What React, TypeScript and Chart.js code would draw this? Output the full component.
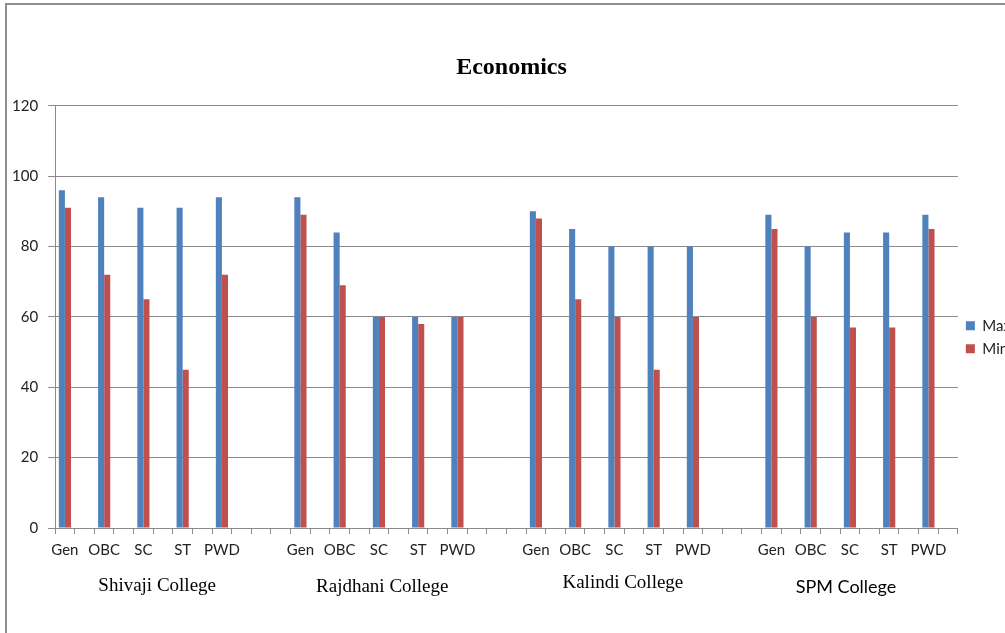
import React, { useEffect, useRef } from 'react';
import { Chart, registerables } from 'chart.js';

Chart.register(...registerables);

// ---- data ----
const subCategories = ['Gen', 'OBC', 'SC', 'ST', 'PWD'];
const colleges = ['Shivaji College', 'Rajdhani College', 'Kalindi College', 'SPM College'];
const seriesNames = ['Max', 'Min'];

const shivajiMax = [96, 94, 91, 91, 94];
const shivajiMin = [91, 72, 65, 45, 72];
const rajdhaniMax = [94, 84, 60, 60, 60];
const rajdhaniMin = [89, 69, 60, 58, 60];
const kalindiMax = [90, 85, 80, 80, 80];
const kalindiMin = [88, 65, 60, 45, 60];
const spmMax = [89, 80, 84, 84, 89];
const spmMin = [85, 60, 57, 57, 85];

const yTickValues = [0, 20, 40, 60, 80, 100, 120];

const maxByCollege = [shivajiMax, rajdhaniMax, kalindiMax, spmMax];
const minByCollege = [shivajiMin, rajdhaniMin, kalindiMin, spmMin];

// ---- layout constants (not data) ----
const groupLabelIndex = [4.7, 16.17, 28.43, 39.8];
const groupLabelFont = [
  'normal 19px "Liberation Serif"',
  'normal 19px "Liberation Serif"',
  'normal 19px "Liberation Serif"',
  'normal 18px Lato',
];
const groupLabelDy = [58, 59, 55, 59];

// Build slot-based category axis: Gen,_,OBC,_,SC,_,ST,_,PWD,_ (+2 spacer slots between colleges)
function buildSlots() {
  const labels: string[] = [];
  const maxData: (number | null)[] = [];
  const minData: (number | null)[] = [];
  colleges.forEach((_, g) => {
    subCategories.forEach((sc, j) => {
      labels.push(sc);
      maxData.push(maxByCollege[g][j]);
      minData.push(minByCollege[g][j]);
      labels.push('');
      maxData.push(null);
      minData.push(null);
    });
    if (g < colleges.length - 1) {
      for (let k = 0; k < 2; k++) {
        labels.push('');
        maxData.push(null);
        minData.push(null);
      }
    }
  });
  return { labels, maxData, minData };
}

const groupLabelPlugin = {
  id: 'groupLabels',
  afterDraw(chart: any) {
    const ctx = chart.ctx;
    const xs = chart.scales.x;
    const bottom = chart.chartArea.bottom;
    ctx.save();
    ctx.fillStyle = '#000';
    ctx.textAlign = 'center';
    ctx.textBaseline = 'middle';
    colleges.forEach((name, i) => {
      ctx.font = groupLabelFont[i];
      const x = xs.getPixelForValue(groupLabelIndex[i]);
      ctx.fillText(name, x, bottom + groupLabelDy[i]);
    });
    ctx.restore();
  },
};

export default function App() {
  const canvasRef = useRef<HTMLCanvasElement | null>(null);

  useEffect(() => {
    const canvas = canvasRef.current;
    if (!canvas) return;
    const { labels, maxData, minData } = buildSlots();
    const gridColor = '#8a8a8a';
    const tickFont = { family: 'Lato', size: 15 };
    const chart = new Chart(canvas, {
      type: 'bar',
      data: {
        labels,
        datasets: [
          {
            label: seriesNames[0],
            data: maxData,
            backgroundColor: '#4F81BD',
            borderWidth: 0,
            categoryPercentage: 0.62,
            barPercentage: 1,
          },
          {
            label: seriesNames[1],
            data: minData,
            backgroundColor: '#C0504D',
            borderWidth: 0,
            categoryPercentage: 0.62,
            barPercentage: 1,
          },
        ],
      },
      options: {
        responsive: false,
        animation: false,
        devicePixelRatio: 1,
        layout: { padding: { left: 2, top: 0, right: 19, bottom: 67 } },
        plugins: {
          title: {
            display: true,
            text: 'Economics',
            color: '#000',
            font: { family: 'Liberation Serif', size: 24, weight: 'bold' },
            padding: { top: 53, bottom: 24 },
          },
          legend: {
            display: true,
            position: 'right',
            align: 'center',
            title: { display: true, text: '', padding: 47 },
            labels: {
              boxWidth: 9,
              boxHeight: 9,
              padding: 8,
              color: '#222',
              font: { family: 'Lato', size: 15 },
            },
          },
          tooltip: { enabled: false },
        },
        scales: {
          x: {
            grid: {
              display: true,
              drawOnChartArea: false,
              drawTicks: true,
              tickLength: 6,
              color: gridColor,
              offset: true,
            },
            border: { display: true, color: gridColor },
            ticks: {
              autoSkip: false,
              maxRotation: 0,
              minRotation: 0,
              padding: 7,
              color: '#222',
              font: tickFont,
            },
          },
          y: {
            min: 0,
            max: 120,
            afterBuildTicks: (scale: any) => {
              scale.ticks = yTickValues.map((v) => ({ value: v }));
            },
            grid: { color: gridColor, tickLength: 7, lineWidth: 1 },
            border: { display: true, color: gridColor },
            ticks: {
              stepSize: 20,
              padding: 10,
              color: '#222',
              font: tickFont,
            },
          },
        },
      },
      plugins: [groupLabelPlugin],
    } as any);
    return () => chart.destroy();
  }, []);

  return (
    <div
      style={{
        position: 'fixed',
        left: 0,
        top: 0,
        width: 1005,
        height: 633,
        overflow: 'hidden',
        background: '#fff',
      }}
    >
      <div
        style={{
          position: 'absolute',
          left: 5,
          top: 3,
          width: 1100,
          height: 700,
          border: '2px solid #8f8f8f',
          boxSizing: 'border-box',
        }}
      />
      <canvas
        ref={canvasRef}
        width={1040}
        height={633}
        style={{ position: 'absolute', left: 0, top: 0, width: 1040, height: 633 }}
      />
    </div>
  );
}
